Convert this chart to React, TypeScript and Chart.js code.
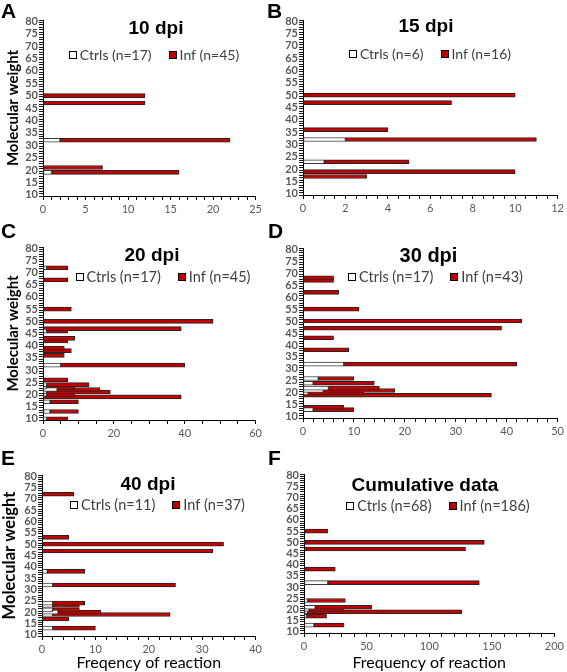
import React, { useEffect, useRef } from 'react';
import { Chart, registerables } from 'chart.js';

Chart.register(...registerables);

// Molecular weight categories (y axis), 10 .. 80
const mwLabels: string[] = Array.from({ length: 71 }, (_, i) => String(10 + i));

// Panel A – 10 dpi
const mwA = [50, 47, 32, 21, 19];
const ctrlA = [0, 0, 2, 0, 1];
const infA = [12, 12, 20, 7, 15];
const legendA = ['Ctrls (n=17)', 'Inf (n=45)'];

// Panel B – 15 dpi
const mwB = [50, 47, 36, 32, 23, 19, 17];
const ctrlB = [0, 0, 0, 2, 1, 0, 0];
const infB = [10, 7, 4, 9, 4, 10, 3];
const legendB = ['Ctrls (n=6)', 'Inf (n=16)'];

// Panel C – 20 dpi
const mwC = [72, 67, 55, 50, 47, 46, 43, 42, 39, 38, 36, 32, 26, 24, 23, 22, 21, 20, 19, 17, 13, 10];
const ctrlC = [1, 0, 0, 0, 0, 1, 0, 0, 0, 0, 0, 5, 0, 1, 1, 4, 1, 1, 0, 2, 2, 1];
const infC = [6, 7, 8, 48, 39, 6, 9, 7, 6, 8, 6, 35, 7, 12, 8, 12, 18, 8, 39, 8, 8, 6];
const legendC = ['Ctrls (n=17)', 'Inf (n=45)'];

// Panel D – 30 dpi
const mwD = [68, 67, 62, 55, 50, 47, 43, 38, 32, 26, 24, 22, 21, 20, 19, 14, 13];
const ctrlD = [0, 0, 0, 0, 0, 0, 0, 0, 8, 3, 2, 5, 4, 1, 0, 0, 2];
const infD = [6, 6, 7, 11, 43, 39, 6, 9, 34, 7, 12, 10, 14, 11, 37, 8, 8];
const legendD = ['Ctrls (n=17)', 'Inf (n=43)'];

// Panel E – 40 dpi
const mwE = [72, 53, 50, 47, 38, 32, 24, 23, 21, 20, 19, 17, 13];
const ctrlE = [0, 0, 0, 0, 1, 2, 2, 2, 2, 3, 2, 0, 2];
const infE = [6, 5, 34, 32, 7, 23, 6, 5, 5, 8, 22, 5, 8];
const legendE = ['Ctrls (n=11)', 'Inf (n=37)'];

// Panel F – cumulative
const mwF = [55, 50, 47, 38, 32, 24, 21, 20, 19, 17, 13];
const ctrlF = [0, 0, 0, 0, 19, 3, 9, 4, 3, 2, 8];
const infF = [19, 144, 129, 25, 121, 30, 45, 28, 123, 16, 24];
const legendF = ['Ctrls (n=68)', 'Inf (n=186)'];

type Cfg = {
  letter: string; letterX: number; letterY: number;
  left: number; top: number; w: number; h: number;
  area: { l: number; t: number; r: number; b: number };
  mw: number[]; ctrl: number[]; inf: number[]; legend: string[];
  title: string; titleX: number; titleY: number; titleSize: number;
  legendX: number; legendY: number; legendSize: number;
  xMax: number; xStep: number; xMajor: number;
  yTitle: boolean; yTitleSize: number; yTitlePad: number;
  xTitle: string;
};

const panels: Cfg[] = [
  { letter: 'A', letterX: 1, letterY: 0, left: 0, top: 0, w: 265, h: 220, area: { l: 43, t: 20, r: 258, b: 196 },
    mw: mwA, ctrl: ctrlA, inf: infA, legend: legendA, title: '10 dpi', titleX: 156, titleY: 29, titleSize: 19,
    legendX: 154, legendY: 55, legendSize: 14, xMax: 25, xStep: 1, xMajor: 5, yTitle: true, yTitleSize: 15, yTitlePad: 4, xTitle: '' },
  { letter: 'B', letterX: 267, letterY: 0, left: 265, top: 0, w: 302, h: 220, area: { l: 38, t: 20, r: 296, b: 195 },
    mw: mwB, ctrl: ctrlB, inf: infB, legend: legendB, title: '15 dpi', titleX: 161, titleY: 27, titleSize: 19,
    legendX: 165, legendY: 54, legendSize: 14, xMax: 12, xStep: 0.5, xMajor: 2, yTitle: false, yTitleSize: 15, yTitlePad: 4, xTitle: '' },
  { letter: 'C', letterX: 1, letterY: 220, left: 0, top: 220, w: 265, h: 230, area: { l: 43, t: 27, r: 259, b: 200 },
    mw: mwC, ctrl: ctrlC, inf: infC, legend: legendC, title: '20 dpi', titleX: 152, titleY: 36, titleSize: 19,
    legendX: 163, legendY: 57, legendSize: 14.5, xMax: 60, xStep: 5, xMajor: 20, yTitle: true, yTitleSize: 15, yTitlePad: 4, xTitle: '' },
  { letter: 'D', letterX: 268, letterY: 220, left: 265, top: 220, w: 302, h: 230, area: { l: 38, t: 28, r: 293, b: 198 },
    mw: mwD, ctrl: ctrlD, inf: infD, legend: legendD, title: '30 dpi', titleX: 163.5, titleY: 36, titleSize: 20,
    legendX: 170.5, legendY: 57, legendSize: 14.5, xMax: 50, xStep: 2, xMajor: 10, yTitle: false, yTitleSize: 15, yTitlePad: 4, xTitle: '' },
  { letter: 'E', letterX: 1, letterY: 447, left: 0, top: 450, w: 265, h: 222, area: { l: 42, t: 25, r: 257, b: 186 },
    mw: mwE, ctrl: ctrlE, inf: infE, legend: legendE, title: '40 dpi', titleX: 148, titleY: 35, titleSize: 19,
    legendX: 157.5, legendY: 55, legendSize: 14.5, xMax: 40, xStep: 2, xMajor: 10, yTitle: true, yTitleSize: 16.5, yTitlePad: 0, xTitle: 'Freqency of reaction' },
  { letter: 'F', letterX: 268, letterY: 447, left: 265, top: 450, w: 302, h: 222, area: { l: 39, t: 24, r: 292, b: 183 },
    mw: mwF, ctrl: ctrlF, inf: infF, legend: legendF, title: 'Cumulative data', titleX: 160, titleY: 36, titleSize: 19,
    legendX: 173, legendY: 56, legendSize: 14.5, xMax: 200, xStep: 10, xMajor: 50, yTitle: false, yTitleSize: 15, yTitlePad: 4, xTitle: 'Frequency of reaction' },
];

function expand(mw: number[], vals: number[]): (number | null)[] {
  return mwLabels.map((l) => {
    const i = mw.indexOf(Number(l));
    return i >= 0 && vals[i] > 0 ? vals[i] : null;
  });
}

const panelText = {
  id: 'panelText',
  afterDraw(chart: any, _args: any, opts: any) {
    const ctx = chart.ctx as CanvasRenderingContext2D;
    ctx.save();
    ctx.fillStyle = '#000';
    ctx.font = `bold ${opts.titleSize}px "Liberation Sans", Arial, sans-serif`;
    ctx.textAlign = 'center';
    ctx.textBaseline = 'middle';
    ctx.fillText(opts.title, opts.titleX, opts.titleY);

    ctx.font = `${opts.legendSize}px Lato, sans-serif`;
    const items = chart.data.datasets.map((ds: any) => ({ text: ds.label, fill: ds.backgroundColor }));
    const box = 8, gap = 3, itemGap = 17;
    const widths = items.map((it: any) => box + gap + ctx.measureText(it.text).width);
    const total = widths.reduce((a: number, b: number) => a + b, 0) + itemGap * (items.length - 1);
    let x = opts.legendX - total / 2;
    const y = opts.legendY;
    ctx.textAlign = 'left';
    items.forEach((it: any, i: number) => {
      const bx = Math.round(x), by = Math.round(y - box / 2);
      ctx.fillStyle = it.fill;
      ctx.fillRect(bx, by, box, box);
      ctx.strokeStyle = '#000';
      ctx.lineWidth = 1;
      ctx.strokeRect(bx + 0.5, by + 0.5, box - 1, box - 1);
      ctx.fillStyle = '#404040';
      ctx.fillText(it.text, x + box + gap, y + 0.5);
      x += widths[i] + itemGap;
    });
    ctx.restore();
  },
};

function Panel({ cfg }: { cfg: Cfg }) {
  const ref = useRef<HTMLCanvasElement>(null);
  useEffect(() => {
    const a = cfg.area;
    const chart = new Chart(ref.current as HTMLCanvasElement, {
      type: 'bar',
      data: {
        labels: mwLabels,
        datasets: [
          {
            label: cfg.legend[0],
            data: expand(cfg.mw, cfg.ctrl),
            backgroundColor: '#ffffff',
            borderColor: '#3a3a3a',
            borderWidth: 1,
            borderSkipped: false,
            barThickness: 4,
          },
          {
            label: cfg.legend[1],
            data: expand(cfg.mw, cfg.inf),
            backgroundColor: '#c00000',
            borderColor: '#262626',
            borderWidth: 1,
            borderSkipped: false,
            barThickness: 4,
          },
        ],
      } as any,
      options: {
        indexAxis: 'y',
        responsive: false,
        maintainAspectRatio: false,
        animation: false,
        events: [],
        layout: { padding: { left: 0, top: a.t, right: cfg.w - a.r, bottom: 0 } },
        plugins: {
          legend: { display: false },
          title: { display: false },
          tooltip: { enabled: false },
          panelText: {
            title: cfg.title, titleX: cfg.titleX, titleY: cfg.titleY, titleSize: cfg.titleSize,
            legendX: cfg.legendX, legendY: cfg.legendY, legendSize: cfg.legendSize,
          },
        } as any,
        scales: {
          x: {
            type: 'linear',
            min: 0,
            max: cfg.xMax,
            stacked: true,
            afterFit: (s: any) => { s.height = cfg.h - a.b; },
            grid: { drawOnChartArea: false, drawTicks: true, tickLength: 4, color: '#000' },
            border: { display: true, color: '#000', width: 1 },
            ticks: {
              stepSize: cfg.xStep,
              autoSkip: false,
              maxRotation: 0,
              padding: 3,
              color: '#595959',
              font: { family: 'Lato', size: 11 },
              callback: (v: any) => {
                const n = Number(v);
                const r = n / cfg.xMajor;
                return Math.abs(r - Math.round(r)) < 1e-6 ? String(Math.round(n)) : '';
              },
            },
            title: {
              display: !!cfg.xTitle,
              text: cfg.xTitle,
              color: '#000',
              font: { family: 'Lato', size: 16, lineHeight: 1.2 },
              padding: { top: 0, bottom: 0 },
            },
          },
          y: {
            type: 'category',
            stacked: true,
            reverse: true,
            afterFit: (s: any) => { s.width = a.l; },
            grid: { drawOnChartArea: false, drawTicks: true, tickLength: 4, color: '#1a1a1a', offset: true },
            border: { display: true, color: '#000', width: 1 },
            ticks: {
              autoSkip: false,
              padding: 1,
              color: '#595959',
              font: { family: 'Lato', size: 11, weight: 'bold' },
              callback: (v: any) => {
                const l = Number(mwLabels[Number(v)]);
                return l % 5 === 0 ? String(l) : '';
              },
            },
            title: {
              display: cfg.yTitle,
              text: 'Molecular weight',
              color: '#000',
              font: { family: 'Lato', size: cfg.yTitleSize, weight: 'bold', lineHeight: 1.2 },
              padding: { top: cfg.yTitlePad, bottom: 0 },
            },
          },
        } as any,
      },
      plugins: [panelText as any],
    });
    return () => chart.destroy();
  }, []);
  return (
    <canvas
      ref={ref}
      width={cfg.w}
      height={cfg.h}
      style={{ position: 'absolute', left: cfg.left, top: cfg.top, width: cfg.w, height: cfg.h }}
    />
  );
}

export default function App() {
  return (
    <div style={{ position: 'absolute', left: 0, top: 0, width: 567, height: 672, overflow: 'hidden', background: '#fff' }}>
      {panels.map((p) => (
        <Panel key={p.letter} cfg={p} />
      ))}
      {panels.map((p) => (
        <div
          key={'L' + p.letter}
          style={{
            position: 'absolute', left: p.letterX, top: p.letterY,
            font: 'bold 21px "Liberation Sans", Arial, sans-serif', lineHeight: '21px', color: '#000',
          }}
        >
          {p.letter}
        </div>
      ))}
    </div>
  );
}
